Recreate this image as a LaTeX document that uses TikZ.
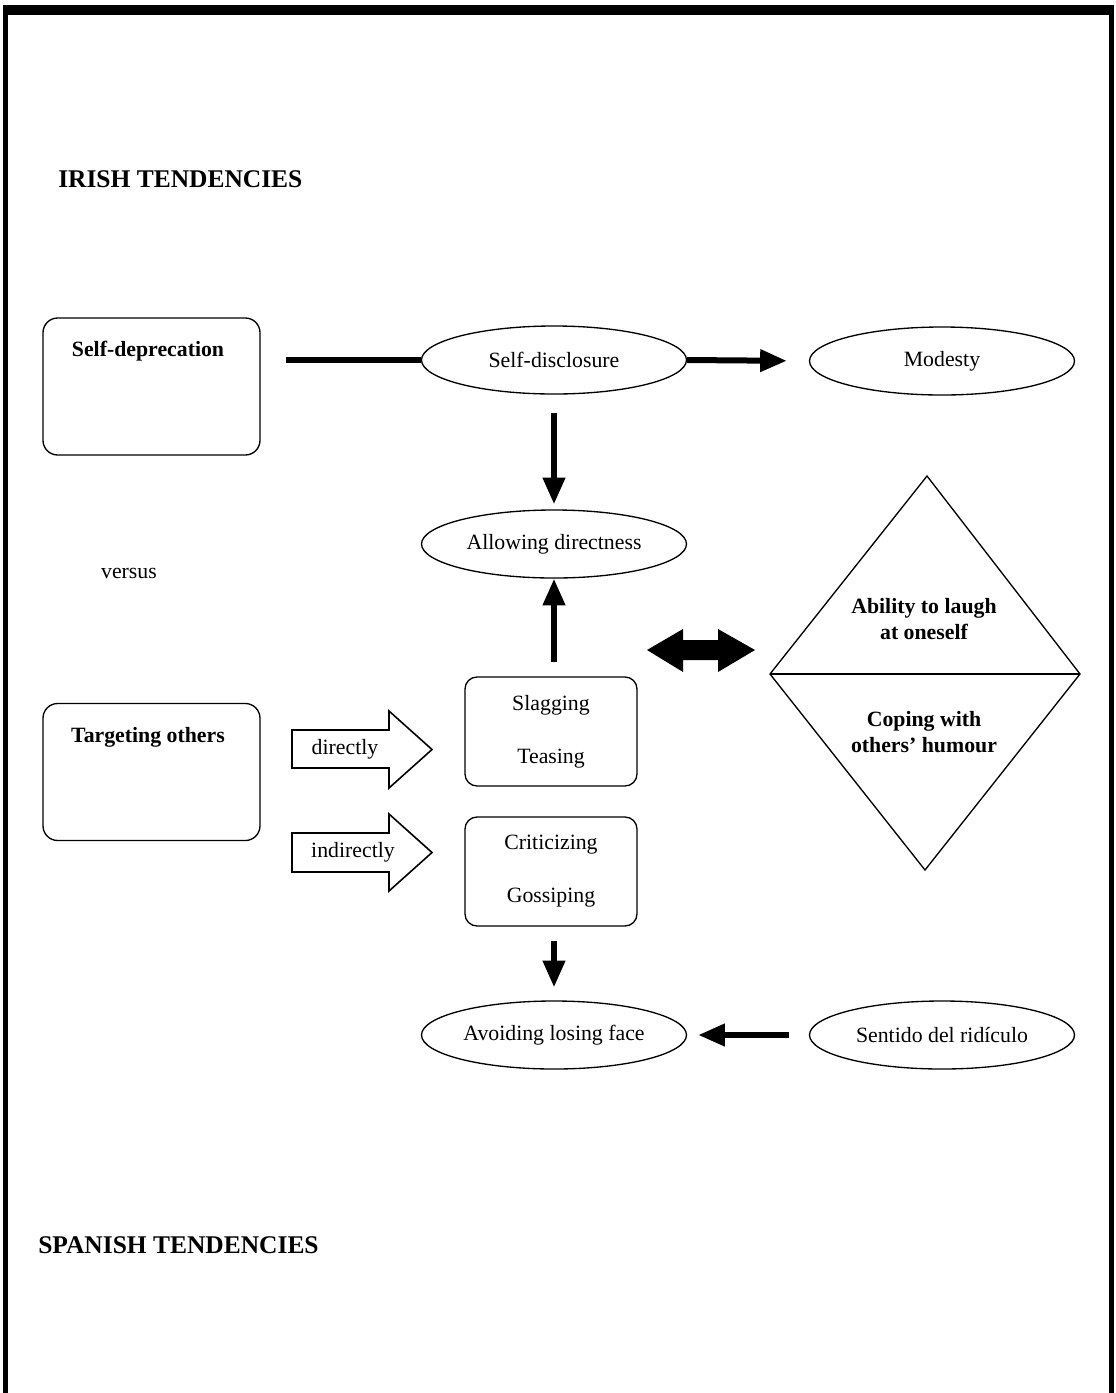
\documentclass[tikz,border=0pt]{standalone}
\usepackage{fontspec}
\setmainfont{Liberation Serif}
\usetikzlibrary{shapes.geometric,arrows.meta}
\begin{document}
\begin{tikzpicture}[x=0.75pt,y=-0.75pt,
  txt/.style={font=\fontsize{16.35}{19.6}\selectfont, inner sep=0pt},
  btxt/.style={font=\fontsize{16.35}{19.5}\selectfont\bfseries, inner sep=0pt, align=center},
  head/.style={font=\fontsize{19.1}{23}\selectfont\bfseries, inner sep=0pt, anchor=west},
  oval/.style={ellipse, draw, line width=1pt, minimum width=198.75pt, minimum height=51pt, inner sep=0pt,
    font=\fontsize{16.35}{19.6}\selectfont},
  bigbox/.style={draw, line width=1pt, rounded corners=11pt, minimum width=162.75pt, minimum height=102.75pt},
  pairbox/.style={draw, line width=1pt, rounded corners=9pt, minimum width=129pt, minimum height=81.75pt,
    align=center, font=\fontsize{16.35}{39.75}\selectfont},
  link/.style={line width=4.5pt},
  flow/.style={line width=4.5pt, -{Triangle[length=20pt, width=16pt]}},
  hollow/.style={draw, line width=1.2pt, fill=white, line join=miter}
]
\useasboundingbox (0,0) rectangle (1115,1393);
\fill[white] (0,0) rectangle (1115,1393);

% page frame (open at the bottom)
\fill[black] (3,5) rectangle (1114,15);
\fill[black] (3,5) rectangle (8,1393);
\fill[black] (1109,5) rectangle (1114,1393);

% headings
\node[head] (irish) at (58,179) {IRISH TENDENCIES};
\node[head] (spanish) at (38,1245) {SPANISH TENDENCIES};
\node[txt] (versus) at (129,573) {versus};

% left-hand boxes
\node[bigbox] (selfdep) at (151.5,386.5) {};
\node[btxt] at (148,351) {Self-deprecation};
\node[bigbox] (target) at (151.5,772) {};
\node[btxt] at (148,737) {Targeting others};

% ovals
\node[oval] (disc) at (554,360) {Self-disclosure};
\node[oval] (modesty) at (942,361) {Modesty};
\node[oval] (allow) at (554,544) {Allowing directness};
\node[oval] (avoid) at (554,1035) {Avoiding losing face};
\node[oval] (sentido) at (942,1035) {Sentido del ridículo};

% direct / indirect boxes
\node[pairbox] (slag) at (551,731.5) {Slagging\\Teasing};
\node[pairbox] (crit) at (551,871.5) {Criticizing\\Gossiping};

% block arrows from "Targeting others"
\draw[hollow] (292,730) -- (389,730) -- (389,711) -- (432,749.5) -- (389,788) -- (389,768) -- (292,768) -- cycle;
\node[txt] (directly) at (345,749) {directly};
\draw[hollow] (292,833) -- (389,833) -- (389,814) -- (432,852.5) -- (389,891) -- (389,872) -- (292,872) -- cycle;
\node[txt] (indirectly) at (353,852) {indirectly};

% diamond split in two halves
\coordinate (dt) at (927,476);
\coordinate (dl) at (770,674);
\coordinate (dr) at (1080,674);
\coordinate (db) at (925,870);
\draw[line width=1pt, line join=miter] (dt) -- (dr) -- (db) -- (dl) -- cycle;
\draw[line width=1pt] (dl) -- (dr);
\node[btxt] (laugh) at (924,619) {Ability to laugh\\at oneself};
\node[btxt] (coping) at (924,732) {Coping with\\others’ humour};

% double-headed arrow
\fill[black] (647,650) -- (683,629) -- (683,640) -- (718,640) -- (718,629) -- (755,650)
  -- (718,672) -- (718,660) -- (683,660) -- (683,672) -- cycle;

% connectors
\draw[link] ([xshift=18.75pt]selfdep.east |- disc.west) -- (disc.west);
\draw[flow, shorten >=16.5pt] (disc.east) -- (modesty.west);
\draw[flow, shorten <=13.5pt, shorten >=3.75pt] (disc.south) -- (allow.north);
\draw[flow, shorten <=10.5pt] (allow.south |- slag.north) -- (allow.south);
\draw[flow, shorten <=11pt, shorten >=9.75pt] (avoid.north |- crit.south) -- (avoid.north);
\draw[flow, shorten <=15pt, shorten >=8.25pt] (sentido.west) -- (avoid.east);
\end{tikzpicture}
\end{document}
